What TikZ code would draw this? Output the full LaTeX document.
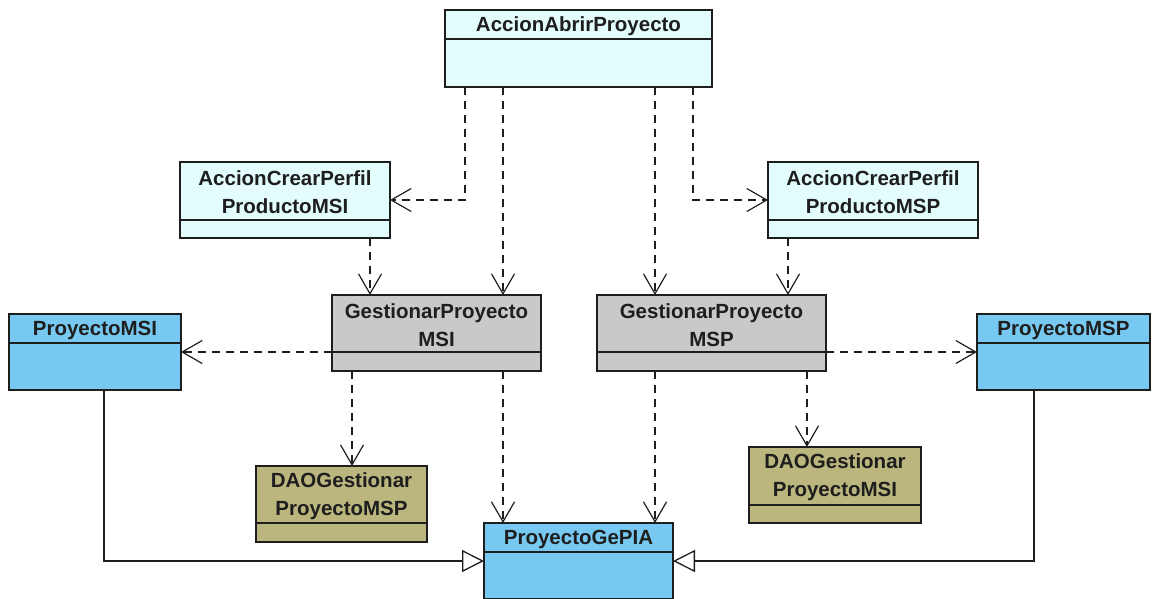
\documentclass[tikz,border=0pt]{standalone}
\usepackage{fontspec}
\setmainfont{Liberation Sans}
\usetikzlibrary{arrows.meta}

\definecolor{actioncyan}{HTML}{E3FCFC}
\definecolor{entityblue}{HTML}{78C9F1}
\definecolor{servicegrey}{HTML}{C9C9C9}
\definecolor{daoolive}{HTML}{BBB67D}
\definecolor{inkdark}{HTML}{1E1E1E}

\tikzset{
  classbox/.style={draw=inkdark, line width=1.6pt, inner sep=0pt, outer sep=0pt},
  classline/.style={draw=inkdark, line width=1.4pt},
  classtitle/.style={font=\bfseries\fontsize{20.5}{28}\selectfont, text=inkdark, align=center, inner sep=0pt, yshift=-1.5pt},
  dep/.style={draw=inkdark, line width=1.2pt, dash pattern=on 8pt off 6pt,
    -{Straight Barb[length=20pt,width=23pt,line width=1.2pt]}},
  gen/.style={draw=inkdark, line width=1.3pt,
    -{Triangle[length=22pt,width=22pt,fill=white,line width=1.3pt]}}
}

% \umlclass{name}{x1}{y1}{x2}{y2}{divider y}{fill}{title}
\newcommand\umlclass[8]{%
  \pgfmathsetmacro\clsw{#4-#2}%
  \pgfmathsetmacro\clsh{#5-#3}%
  \node[classbox, fill=#7, minimum width=\clsw pt, minimum height=\clsh pt, anchor=north west] (#1) at (#2,#3) {};
  \draw[classline] (#2,#6) -- (#4,#6);
  \node[classtitle] (#1-title) at ({(#2+#4)/2},{(#3+#6)/2}) {#8};
}

\begin{document}
\begin{tikzpicture}[x=1pt,y=-1pt]
  \useasboundingbox (0,0) rectangle (1162,598);
  \clip (0,0) rectangle (1162,598);

  % classes
  \umlclass{abrir}{445}{10}{712}{87}{39}{actioncyan}{AccionAbrirProyecto}
  \umlclass{crearMSI}{180}{162}{390}{238}{220}{actioncyan}{AccionCrearPerfil\\ProductoMSI}
  \umlclass{crearMSP}{768}{162}{978}{238}{220}{actioncyan}{AccionCrearPerfil\\ProductoMSP}
  \umlclass{gestMSI}{332}{295}{541}{371}{352}{servicegrey}{GestionarProyecto\\MSI}
  \umlclass{gestMSP}{597}{295}{826}{371}{352}{servicegrey}{GestionarProyecto\\MSP}
  \umlclass{projMSI}{9}{314}{181}{390}{343}{entityblue}{ProyectoMSI}
  \umlclass{projMSP}{977}{314}{1150}{390}{343}{entityblue}{ProyectoMSP}
  \umlclass{daoMSP}{256}{466}{427}{542}{523}{daoolive}{DAOGestionar\\ProyectoMSP}
  \umlclass{daoMSI}{749}{447}{921}{523}{505}{daoolive}{DAOGestionar\\ProyectoMSI}
  \umlclass{gepia}{484}{523}{673}{599}{552}{entityblue}{ProyectoGePIA}

  % connector ports on the box edges
  \coordinate (abrir-p1) at ([xshift=20pt]abrir.south west);
  \coordinate (abrir-p2) at ([xshift=58pt]abrir.south west);
  \coordinate (abrir-p3) at ([xshift=210pt]abrir.south west);
  \coordinate (abrir-p4) at ([xshift=248pt]abrir.south west);
  \coordinate (crearMSI-p) at ([xshift=190pt]crearMSI.south west);
  \coordinate (crearMSP-p) at ([xshift=20pt]crearMSP.south west);
  \coordinate (gestMSI-p1) at ([xshift=20pt]gestMSI.south west);
  \coordinate (gestMSI-p2) at ([xshift=171pt]gestMSI.south west);
  \coordinate (gestMSP-p1) at ([xshift=58pt]gestMSP.south west);
  \coordinate (gestMSP-p2) at ([xshift=210pt]gestMSP.south west);
  \coordinate (projMSI-p) at ([xshift=95pt]projMSI.south west);
  \coordinate (projMSP-p) at ([xshift=57pt]projMSP.south west);

  % dependencies
  \draw[dep] (abrir-p1) |- (crearMSI.east);
  \draw[dep] (abrir-p2) -- (abrir-p2 |- gestMSI.north);
  \draw[dep] (abrir-p3) -- (abrir-p3 |- gestMSP.north);
  \draw[dep] (abrir-p4) |- (crearMSP.west);
  \draw[dep] (crearMSI-p) -- (crearMSI-p |- gestMSI.north);
  \draw[dep] (crearMSP-p) -- (crearMSP-p |- gestMSP.north);
  \draw[dep] (projMSI.east -| gestMSI.west) -- (projMSI.east);
  \draw[dep] (projMSP.west -| gestMSP.east) -- (projMSP.west);
  \draw[dep] (gestMSI-p1) -- (gestMSI-p1 |- daoMSP.north);
  \draw[dep] (gestMSI-p2) -- (gestMSI-p2 |- gepia.north);
  \draw[dep] (gestMSP-p1) -- (gestMSP-p1 |- gepia.north);
  \draw[dep] (gestMSP-p2) -- (gestMSP-p2 |- daoMSI.north);

  % generalizations
  \draw[gen] (projMSI-p) |- (gepia.west);
  \draw[gen] (projMSP-p) |- (gepia.east);
\end{tikzpicture}
\end{document}
